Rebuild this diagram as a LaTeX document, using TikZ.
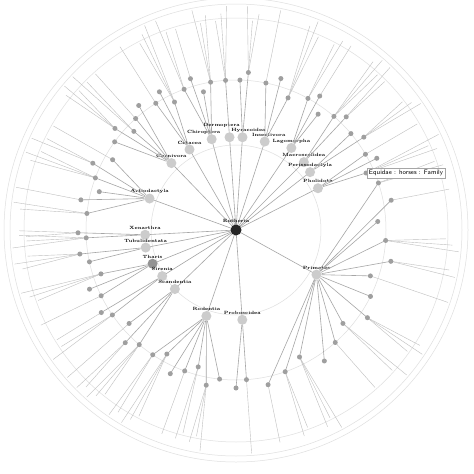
\documentclass[tikz,border=0pt]{standalone}
\usetikzlibrary{calc}
\begin{document}
\begin{tikzpicture}[x=1pt,y=-1pt,
 ring/.style={draw=gray!25,line width=0.5pt},
 edge/.style={draw=gray!70,line width=0.6pt},
 leaf/.style={draw=gray!50,line width=0.4pt},
 root/.style={circle,fill=black!85,inner sep=0pt,minimum size=11pt},
 ord/.style={circle,fill=gray!40,inner sep=0pt,minimum size=10pt},
 fam/.style={circle,fill=gray!75,inner sep=0pt,minimum size=5pt},
 lab/.style={font=\fontsize{4.6}{5}\selectfont\bfseries,inner sep=0.3pt}]
\useasboundingbox (0,0) rectangle (474,474);
\fill[white] (0,0) rectangle (474,474);
\coordinate (C) at (236,230);
\foreach \rad in {85,150,212,226,232} \draw[ring] (C) circle (\rad);
\foreach \a/\r/\name/\lo/\hi/\n/\dx/\dy/\col [count=\i] in {
 226/93/Carnivora/214/234/5/0/-7/40, 240/93/Cetacea/236/246/3/0/-7/40, 255/94/Chiroptera/248/262/4/-8/-7/40,
 266/93/Dermoptera/264/268/1/-8/-12/40, 274/93/Hyracoidea/270/276/2/6/-7/40, 288/93/Insectivora/279/294/3/4/-7/40,
 304/99/Lagomorpha/297/307/3/0/-7/40, 315/96/Macroscelidea/309/316/2/0/-7/40, 322/94/Perissodactyla/318/326/2/0/-7/40,
 333/92/Pholidota/328/338/3/0/-7/40, 200/92/Artiodactyla/184/212/6/0/-7/40, 177/91/Xenarthra/176/180/2/0/-7/40,
 169/92/Tubulidentata/166/173/2/0/-7/40, 158/90/Tharis/152/164/3/0/-7/85, 148/87/Sirenia/144/150/2/0/-7/40,
 136/85/Scandentia/128/141/3/0/-7/40, 109/91/Rodentia/94/126/7/0/-7/40, 86/90/Proboscidea/84/92/2/0/-7/40,
 29/92/Primates/-22/82/14/0/-7/40} {
 \draw[edge] (C) -- ($(C)+(\a:\r)$);
 \node[ord,fill=gray!\col] (o\i) at ($(C)+(\a:\r)$) {};
 \node[lab] (t\i) at ($(o\i)+(\dx,\dy)$) {\name};
 \foreach \k in {1,...,\n} {
  \pgfmathsetmacro\b{\lo+(\k-0.5)*(\hi-\lo)/\n}
  \pgfmathsetmacro\rr{142+mod(\k,3)*8}
  \pgfmathtruncatemacro\m{mod(\k*7+\i,4)}
  \draw[edge] (o\i) -- ($(C)+(\b:\rr)$);
  \ifnum\m>0
  \foreach \j in {1,...,\m} {
   \pgfmathsetmacro\c{\b+(\j-(\m+1)/2)*1.6}
   \pgfmathsetmacro\s{210+mod(\k+\j+\i,3)*7}
   \coordinate (l\i-\k-\j) at ($(C)+(\c:\s)$);
   \draw[leaf] ($(C)+(\b:\rr)$) -- (l\i-\k-\j);
  }
  \fi
  \node[fam] (f\i-\k) at ($(C)+(\b:\rr)$) {};
 }
}
\node[root] (eu) at (C) {};
\node[lab] (eul) at (236,221) {Eutheria};
\node[draw=gray!70,fill=white,font=\sffamily\fontsize{6.5}{7}\selectfont,inner sep=2pt] (tip) at (406,173) {Equidae : horses : Family};
\end{tikzpicture}
\end{document}
